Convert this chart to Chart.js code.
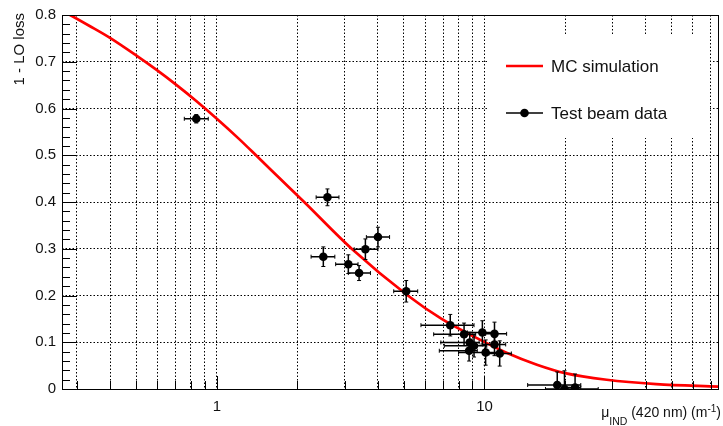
<!DOCTYPE html>
<html lang="en">
<head>
  <meta charset="UTF-8" />
  <title>1 - LO loss vs mu_IND</title>
  <script src="https://cdn.jsdelivr.net/npm/chart.js"></script>
  <style>
    body { margin: 0; background: #fff; }
    #wrap { width: 723px; height: 426px; position: relative; }
  </style>
</head>
<body>
<div id="wrap"><canvas id="lossChart"></canvas></div>

<script>
// test beam points (value, errors)
const beamX     = [0.838, 2.59, 2.50, 3.10, 3.40, 3.59, 4.00, 5.10, 7.45, 8.39, 9.82, 10.9, 8.81, 9.14, 10.9, 8.76, 10.1, 11.4, 18.7, 19.9, 21.8];
const beamY     = [0.578, 0.410, 0.283, 0.267, 0.248, 0.299, 0.325, 0.209, 0.1365, 0.117, 0.121, 0.118, 0.0996, 0.0924, 0.0953, 0.0818, 0.078, 0.076, 0.0085, 0.0, 0.003];
const beamXLow  = [0.756, 2.35, 2.25, 2.78, 3.10, 3.26, 3.62, 4.58, 5.79, 6.46, 8.63, 10.1, 6.87, 7.08, 9.82, 6.78, 8.0, 10.4, 14.5, 16.9, 19.7];
const beamXHigh = [0.929, 2.86, 2.76, 3.37, 3.75, 4.00, 4.42, 5.63, 9.14, 9.27, 11.0, 12.1, 9.55, 10.2, 12.0, 9.4, 11.4, 12.6, 22.9, 26.6, 22.9];
const beamYErr  = [0.009, 0.018, 0.021, 0.020, 0.016, 0.022, 0.021, 0.023, 0.023, 0.024, 0.025, 0.025, 0.022, 0.024, 0.024, 0.022, 0.027, 0.027, 0.028, 0.039, 0.029];

// MC simulation curve
const mcX = [0.264, 0.283, 0.336, 0.399, 0.501, 0.594, 0.704, 0.838, 1.005, 1.21, 1.435, 2.12, 3.19, 5.17, 6.87, 9.14, 12.15, 15.7, 20, 28.6, 43.8, 75];
const mcY = [0.809, 0.800, 0.776, 0.751, 0.713, 0.683, 0.651, 0.616, 0.577, 0.535, 0.494, 0.400, 0.300, 0.200, 0.151, 0.112, 0.077, 0.052, 0.034, 0.0198, 0.0105, 0.005];

// axis ticks
const xTickValues = [0.3,0.4,0.5,0.6,0.7,0.8,0.9,1,2,3,4,5,6,7,8,9,10,20,30,40,50,60,70];
const xTickLabels = { 1: '1', 10: '10' };

const FONT = '"Liberation Sans", Arial, Helvetica, sans-serif';

const rootDecor = {
  id: 'rootDecor',
  afterDatasetDraw(chart, args) {
    if (args.index !== 1) return;
    // error bars go on top of the curve, under the markers
    const {ctx, chartArea: a, scales: {x, y}} = chart;
    ctx.save();
    ctx.beginPath(); ctx.rect(a.left, a.top, a.right - a.left, a.bottom - a.top); ctx.clip();
    ctx.strokeStyle = '#000'; ctx.lineWidth = 1.5;
    beamX.forEach((bx, i) => {
      const px = x.getPixelForValue(bx), py = y.getPixelForValue(beamY[i]);
      const x0 = x.getPixelForValue(beamXLow[i]), x1 = x.getPixelForValue(beamXHigh[i]);
      const y0 = y.getPixelForValue(beamY[i] - beamYErr[i]), y1 = y.getPixelForValue(beamY[i] + beamYErr[i]);
      ctx.beginPath();
      ctx.moveTo(x0, py); ctx.lineTo(x1, py);
      ctx.moveTo(px, y0); ctx.lineTo(px, y1);
      ctx.stroke();
      ctx.lineWidth = 1;
      ctx.beginPath();
      ctx.moveTo(x0, py - 2); ctx.lineTo(x0, py + 2);
      ctx.moveTo(x1, py - 2); ctx.lineTo(x1, py + 2);
      ctx.moveTo(px - 2, y0); ctx.lineTo(px + 2, y0);
      ctx.moveTo(px - 2, y1); ctx.lineTo(px + 2, y1);
      ctx.stroke();
      ctx.lineWidth = 1.5;
    });
    ctx.restore();
  },
  afterDraw(chart) {
    const {ctx, chartArea: a, scales: {x, y}} = chart;
    ctx.save();
    ctx.strokeStyle = '#000'; ctx.lineWidth = 1;
    // inside ticks, y
    for (let k = 0; k <= 40; k++) {
      const v = k * 0.02;
      const py = Math.round(y.getPixelForValue(v)) + 0.5;
      const len = (k % 5 === 0) ? 15 : 8;
      ctx.beginPath(); ctx.moveTo(a.left, py); ctx.lineTo(a.left + len, py); ctx.stroke();
    }
    // inside ticks, x
    xTickValues.forEach(v => {
      const px = Math.round(x.getPixelForValue(v)) + 0.5;
      const len = (v === 1 || v === 10) ? 13 : 8;
      ctx.beginPath(); ctx.moveTo(px, a.bottom); ctx.lineTo(px, a.bottom - len); ctx.stroke();
    });
    // frame
    ctx.strokeRect(Math.round(a.left) + 0.5, Math.round(a.top) + 0.5, Math.round(a.right - a.left) - 1, Math.round(a.bottom - a.top));

    // legend
    ctx.fillStyle = '#fff';
    ctx.fillRect(487, 36, 223, 102);
    ctx.lineWidth = 2.7; ctx.strokeStyle = '#ff0000';
    ctx.beginPath(); ctx.moveTo(506, 66); ctx.lineTo(543, 66); ctx.stroke();
    ctx.lineWidth = 1.5; ctx.strokeStyle = '#000';
    ctx.beginPath(); ctx.moveTo(506, 113); ctx.lineTo(543, 113); ctx.stroke();
    ctx.fillStyle = '#000';
    ctx.beginPath(); ctx.arc(524.5, 113, 4.3, 0, Math.PI * 2); ctx.fill();
    ctx.font = '17px ' + FONT; ctx.fillStyle = '#111';
    ctx.textAlign = 'left'; ctx.textBaseline = 'middle';
    ctx.fillText('MC simulation', 551, 67);
    ctx.fillText('Test beam data', 551, 114);

    // y title
    ctx.save();
    ctx.translate(23.5, 13);
    ctx.rotate(-Math.PI / 2);
    ctx.font = '15px ' + FONT; ctx.textAlign = 'right'; ctx.textBaseline = 'alphabetic';
    ctx.fillText('1 - LO loss', 0, 0);
    ctx.restore();

    // x title: mu_IND (420 nm) (m^-1), right aligned
    const parts = [
      {t: '\u03bc', f: 14, dy: 0},
      {t: 'IND', f: 10.5, dy: 8.5},
      {t: ' (420 nm) (m', f: 14, dy: 0},
      {t: '-1', f: 10, dy: -5},
      {t: ')', f: 14, dy: 0}
    ];
    ctx.textAlign = 'left'; ctx.textBaseline = 'alphabetic';
    let total = 0;
    parts.forEach(p => { ctx.font = p.f + 'px ' + FONT; p.w = ctx.measureText(p.t).width; total += p.w; });
    let cx = 721 - total;
    parts.forEach(p => { ctx.font = p.f + 'px ' + FONT; ctx.fillText(p.t, cx, 416.5 + p.dy); cx += p.w; });
    ctx.restore();
  }
};

const dotted = { color: '#000', lineWidth: 1, drawTicks: false };

new Chart(document.getElementById('lossChart'), {
  type: 'scatter',
  data: {
    datasets: [
      {
        label: 'Test beam data',
        data: beamX.map((v, i) => ({x: v, y: beamY[i]})),
        pointRadius: 4.3,
        pointBackgroundColor: '#000',
        pointBorderWidth: 0,
        showLine: false
      },
      {
        type: 'line',
        label: 'MC simulation',
        data: mcX.map((v, i) => ({x: v, y: mcY[i]})),
        borderColor: '#ff0000',
        borderWidth: 2.7,
        pointRadius: 0,
        cubicInterpolationMode: 'monotone',
        fill: false
      }
    ]
  },
  options: {
    responsive: true,
    maintainAspectRatio: false,
    animation: false,
    events: [],
    layout: { padding: { top: 14, right: 2, left: 0, bottom: 0 } },
    plugins: { legend: { display: false }, tooltip: { enabled: false } },
    scales: {
      x: {
        type: 'logarithmic',
        min: 0.264,
        max: 75,
        afterBuildTicks: s => { s.ticks = xTickValues.map(v => ({value: v})); },
        afterFit: s => { s.height = 37; },
        grid: dotted,
        border: { display: false, dash: [1.5, 2] },
        ticks: {
          autoSkip: false, maxRotation: 0, padding: 9,
          color: '#111', font: { size: 15, family: FONT },
          callback: v => xTickLabels[v] || ''
        }
      },
      y: {
        min: 0,
        max: 0.8,
        afterFit: s => { s.width = 62; },
        grid: dotted,
        border: { display: false, dash: [1.5, 2] },
        ticks: {
          stepSize: 0.1, padding: 6,
          color: '#111', font: { size: 15, family: FONT },
          callback: v => Number(v.toFixed(1)).toString()
        }
      }
    }
  },
  plugins: [rootDecor]
});
</script>
</body>
</html>
